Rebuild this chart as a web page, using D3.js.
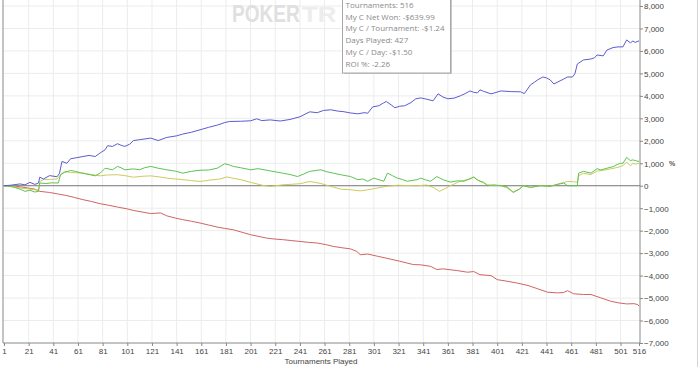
<!DOCTYPE html>
<html>
<head>
<meta charset="utf-8">
<script src="https://cdn.jsdelivr.net/npm/d3@7"></script>
<style>
  body { margin: 0; background: #fff; }
  svg { display: block; }
  .axis text { font-family: "Liberation Sans", Arial, sans-serif; font-size: 8px; fill: #444; }
  .axis path, .axis line { stroke: #888; }
  .tip text { font-family: "Open Sans", sans-serif; font-size: 8px; fill: #8a8a8a; }
</style>
</head>
<body>
<div id="chart"></div>
<script>
// tournament ticks and money ticks
const xTicks = [1, 21, 41, 61, 81, 101, 121, 141, 161, 181, 201, 221, 241, 261, 281, 301, 321, 341, 361, 381, 401, 421, 441, 461, 481, 501, 516];
const yTicks = d3.range(-7000, 8001, 1000);

const tipLines = ["Tournaments: 516", "My C Net Won: -$639.99", "My C / Tournament: -$1.24",
    "Days Played: 427", "My C / Day: -$1.50", "ROI %: -2.26"];

// [tournament, value]
const blueSeries = [[1,0],[6,20],[14,80],[18,40],[22,150],[26,60],[29,120],[30,380],[33,300],[38,450],[44,400],[46,550],
  [48,1080],[52,1000],[55,1200],[60,1250],[65,1300],[70,1350],[75,1300],[79,1460],[83,1600],[85,1780],[89,1750],[93,1870],
  [96,1800],[99,1750],[103,1850],[106,2010],[111,2050],[120,2120],[126,2010],[133,2150],[141,2220],[146,2300],[153,2380],
  [160,2490],[167,2600],[174,2700],[180,2810],[184,2860],[193,2870],[201,2890],[206,2980],[210,2900],[217,2930],[225,2880],
  [233,2950],[241,3070],[249,3290],[255,3250],[260,3350],[266,3380],[272,3320],[276,3300],[282,3240],[288,3200],[293,3250],
  [296,3230],[300,3510],[305,3560],[309,3690],[311,3750],[315,3600],[318,3470],[322,3540],[326,3560],[331,3700],[335,3870],
  [339,3910],[344,3850],[349,3780],[353,4090],[357,3950],[361,3870],[366,3900],[371,4000],[375,4100],[379,4220],[382,4160],
  [385,4130],[387,4270],[390,4200],[396,4090],[400,4150],[404,4220],[412,4190],[420,4180],[423,4100],[428,4490],[431,4600],
  [434,4720],[438,4840],[441,4800],[444,4710],[447,4530],[452,4670],[455,4750],[458,4840],[462,4840],[464,4980],[466,5420],
  [471,5600],[477,5640],[480,5700],[482,5820],[487,5780],[490,6040],[495,6150],[499,6180],[503,6180],[506,6490],[509,6360],
  [511,6440],[513,6380],[516,6450]];

const greenSeries = [[1,0],[6,-30],[10,-80],[14,-150],[18,-250],[22,-200],[26,-280],[29,-250],[30,120],[35,100],[40,130],
  [45,120],[47,500],[50,590],[55,680],[59,640],[63,580],[68,520],[75,440],[79,560],[83,780],[89,710],[93,860],[96,800],
  [99,710],[106,750],[111,710],[115,800],[120,860],[126,780],[133,710],[140,650],[146,560],[153,640],[160,690],[167,700],
  [174,780],[180,980],[184,920],[187,860],[193,800],[201,710],[207,760],[214,690],[221,620],[227,560],[233,500],[239,410],
  [244,520],[249,640],[258,710],[263,620],[268,560],[275,480],[282,410],[288,270],[292,300],[296,200],[301,340],[306,250],
  [309,200],[312,560],[316,450],[320,340],[324,280],[328,200],[336,270],[339,340],[343,260],[347,200],[352,410],[357,270],
  [363,160],[369,220],[374,200],[377,270],[382,390],[385,250],[390,150],[393,0],[398,40],[404,0],[409,-50],[414,-300],
  [419,-150],[422,0],[428,-80],[436,0],[444,-30],[450,60],[455,120],[458,0],[463,0],[466,0],[467,560],[471,640],[477,560],
  [482,760],[485,700],[490,780],[495,850],[499,960],[501,1000],[503,1000],[506,1260],[509,1120],[511,1150],[513,1120],[516,1080]];

const yellowSeries = [[1,0],[6,-20],[14,-100],[22,-150],[29,-200],[30,190],[33,270],[38,280],[44,300],[47,490],[50,640],
  [55,590],[65,560],[72,500],[79,440],[85,480],[93,490],[99,450],[106,380],[113,420],[120,440],[126,400],[133,340],[140,300],
  [146,270],[153,230],[160,190],[168,250],[176,300],[182,390],[187,330],[193,270],[201,150],[211,15],[217,-30],[227,40],
  [233,60],[241,90],[249,190],[258,100],[266,-30],[274,-150],[282,-180],[290,-230],[296,-180],[304,-100],[312,-20],[320,20],
  [328,10],[336,0],[344,30],[350,-100],[354,-250],[358,-150],[363,0],[371,200],[379,300],[382,380],[387,200],[393,50],
  [398,0],[404,20],[409,-100],[414,-280],[419,-150],[422,0],[428,-60],[436,0],[444,-20],[452,100],[458,190],[463,180],
  [466,150],[467,450],[471,550],[477,500],[482,650],[488,700],[493,750],[499,820],[503,900],[506,1050],[509,880],[511,1000],
  [513,960],[516,1000]];

const redSeries = [[1,0],[10,-20],[18,-80],[26,-150],[30,-250],[38,-300],[46,-380],[52,-440],[58,-520],[65,-620],[72,-700],
  [79,-800],[86,-870],[93,-950],[100,-1020],[106,-1100],[113,-1170],[120,-1240],[128,-1210],[133,-1340],[140,-1440],
  [146,-1510],[153,-1580],[160,-1660],[167,-1750],[174,-1840],[180,-1900],[187,-1960],[194,-2070],[201,-2180],[207,-2250],
  [214,-2330],[220,-2370],[227,-2400],[234,-2440],[241,-2480],[248,-2520],[255,-2550],[262,-2620],[268,-2700],[275,-2760],
  [282,-2810],[287,-2920],[290,-3070],[296,-3040],[304,-3140],[314,-3260],[322,-3360],[333,-3510],[339,-3520],[347,-3590],
  [352,-3730],[357,-3700],[369,-3780],[377,-3850],[382,-3820],[387,-3960],[396,-4000],[401,-4180],[409,-4250],[417,-4330],
  [426,-4440],[434,-4590],[442,-4740],[450,-4770],[455,-4750],[458,-4670],[463,-4810],[471,-4840],[477,-4840],[485,-4990],
  [493,-5140],[499,-5210],[506,-5260],[512,-5250],[515,-5290],[516,-5360]];

const width = 700, height = 367;
const plotLeft = 3, plotRight = 640, plotBottom = 343;

const svg = d3.select("#chart").append("svg")
    .attr("width", width)
    .attr("height", height);

svg.append("rect").attr("width", width).attr("height", height).attr("fill", "#fff");

const x = d3.scaleLinear().domain([1, 516]).range([4, 639]);
const y = d3.scaleLinear().domain([-7000, 8000]).range([343, 6]);

// grid
svg.append("g").selectAll("line")
    .data(xTicks.slice(1, -1))
    .join("line")
    .attr("x1", d => x(d)).attr("x2", d => x(d))
    .attr("y1", 0).attr("y2", plotBottom)
    .attr("stroke", "#ececec");

svg.append("g").selectAll("line")
    .data(yTicks.slice(1))
    .join("line")
    .attr("x1", plotLeft).attr("x2", plotRight)
    .attr("y1", d => y(d)).attr("y2", d => y(d))
    .attr("stroke", "#ececec");

// watermark, the rest of it sits under the tooltip box
const wmFont = t => t.attr("font-family", "Liberation Sans, Arial, sans-serif")
    .attr("font-weight", "bold")
    .attr("font-size", 23);
svg.append("text").call(wmFont)
    .attr("transform", "translate(232,22) scale(0.83,1)")
    .attr("fill", "#e0e0e0")
    .text("POKER");
svg.append("text").call(wmFont)
    .attr("transform", "translate(302,22) scale(1.12,1)")
    .attr("fill", "#ededed")
    .text("TR");

// zero line
svg.append("line")
    .attr("x1", plotLeft).attr("x2", plotRight)
    .attr("y1", y(0)).attr("y2", y(0))
    .attr("stroke", "#7a7a7a");

const line = d3.line()
    .x(d => x(d[0]))
    .y(d => y(d[1]));

const series = [
    { data: redSeries, color: "#d06464" },
    { data: yellowSeries, color: "#cccc5c" },
    { data: greenSeries, color: "#5cc452" },
    { data: blueSeries, color: "#5c5cd0" }
];

svg.append("g").selectAll("path")
    .data(series)
    .join("path")
    .attr("d", d => line(d.data))
    .attr("fill", "none")
    .attr("stroke", d => d.color)
    .attr("stroke-width", 1);

// axes
const xAxis = svg.append("g")
    .attr("class", "axis")
    .attr("transform", `translate(0,${plotBottom})`)
    .call(d3.axisBottom(x).tickValues(xTicks).tickSize(3).tickPadding(2).tickSizeOuter(0));
xAxis.select(".domain").remove();

const yAxis = svg.append("g")
    .attr("class", "axis")
    .attr("transform", `translate(${plotRight},0)`)
    .call(d3.axisRight(y).tickValues(yTicks).tickFormat(d3.format(",")).tickSize(3).tickPadding(1).tickSizeOuter(0));
yAxis.select(".domain").remove();
yAxis.selectAll("text").attr("dy", "0.35em");

svg.append("line").attr("x1", plotLeft).attr("x2", plotLeft).attr("y1", 0).attr("y2", plotBottom).attr("stroke", "#888");
svg.append("line").attr("x1", plotRight).attr("x2", plotRight).attr("y1", 0).attr("y2", plotBottom).attr("stroke", "#888");
svg.append("line").attr("x1", plotLeft).attr("x2", plotRight).attr("y1", plotBottom).attr("y2", plotBottom).attr("stroke", "#888");

// right edge border
svg.append("line").attr("x1", 697.5).attr("x2", 697.5).attr("y1", 0).attr("y2", height).attr("stroke", "#d4d4d4");

svg.append("text")
    .attr("x", 321).attr("y", 364)
    .attr("text-anchor", "middle")
    .attr("font-family", "Liberation Sans, Arial, sans-serif")
    .attr("font-size", 8)
    .attr("fill", "#444")
    .text("Tournaments Played");

svg.append("text")
    .attr("x", 669).attr("y", 166)
    .attr("font-family", "Liberation Sans, Arial, sans-serif")
    .attr("font-size", 7)
    .attr("font-weight", "bold")
    .attr("fill", "#555")
    .text("%");

// tooltip box
const tip = svg.append("g").attr("class", "tip");
tip.append("rect")
    .attr("x", 344).attr("y", -4).attr("width", 108).attr("height", 78)
    .attr("fill", "#c8c8c8");
tip.append("rect")
    .attr("x", 342.5).attr("y", -5).attr("width", 108).attr("height", 78)
    .attr("fill", "#fff").attr("stroke", "#a8a8a8");
tip.selectAll("text")
    .data(tipLines)
    .join("text")
    .attr("x", 345.5)
    .attr("y", (d, i) => 8 + i * 11.7)
    .text(d => d);
</script>
</body>
</html>
